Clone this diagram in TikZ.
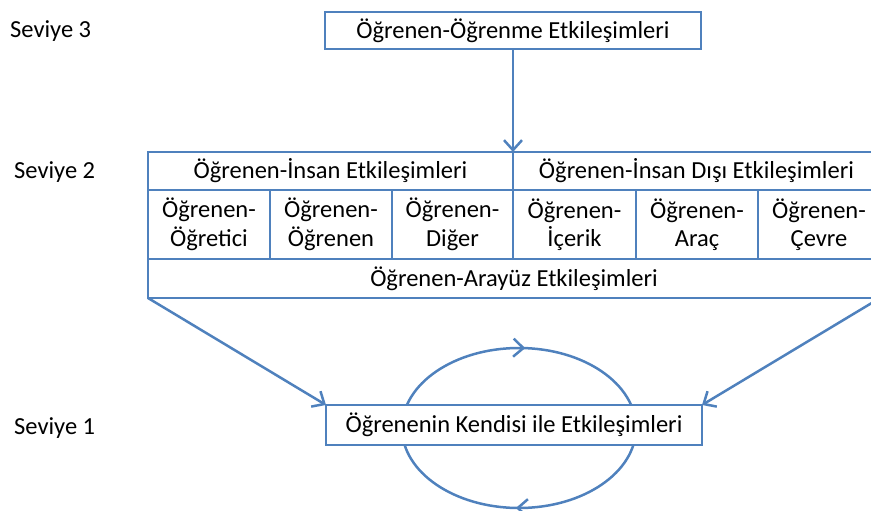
\documentclass[tikz,border=0pt]{standalone}
\usepackage{fontspec}
\setmainfont{Carlito}
\usetikzlibrary{arrows.meta,decorations.markings}
\definecolor{lineblue}{HTML}{4F81BD}
\tikzset{
  box/.style={draw=lineblue, line width=2.5pt, fill=white, rectangle, outer sep=0pt, inner sep=0pt, align=center, font=\fontsize{24.5}{28.5}\selectfont},
  lbl/.style={anchor=west, inner sep=0pt, font=\fontsize{24.5}{28.5}\selectfont},
  conn/.style={draw=lineblue, line width=2.5pt, -{Straight Barb[length=10pt,width=18pt,line width=2.5pt]}},
  loopmark/.style={draw=lineblue, line width=2.5pt, postaction={decorate}, decoration={markings, mark=at position #1 with {\arrow{Straight Barb[length=10pt,width=18pt,line width=2.5pt]}}}}
}
\begin{document}
\begin{tikzpicture}[x=1pt,y=-1pt]
\useasboundingbox (0,0) rectangle (871,511);
\clip (0,0) rectangle (871,511);
% loop around level 1
\path[loopmark=0.52] (402,428) arc[start angle=180, end angle=0, x radius=117pt, y radius=80pt];
\path[loopmark=0.51] (636,428) arc[start angle=0, end angle=-180, x radius=117pt, y radius=80pt];
% level 3
\node[box, minimum width=376pt, minimum height=37pt] (t) at (513,30.5) {Öğrenen-Öğrenme Etkileşimleri};
% level 2
\node[box, minimum width=365pt, minimum height=38pt] (h1) at (330.5,171) {Öğrenen-İnsan Etkileşimleri};
\node[box, minimum width=367pt, minimum height=38pt] (h2) at (696.5,171) {Öğrenen-İnsan Dışı Etkileşimleri};
\node[box, minimum width=122pt, minimum height=69pt] (c1) at (209,224.5) {Öğrenen-\\Öğretici};
\node[box, minimum width=122pt, minimum height=69pt] (c2) at (331,224.5) {Öğrenen-\\Öğrenen};
\node[box, minimum width=121pt, minimum height=69pt] (c3) at (452.5,224.5) {Öğrenen-\\Diğer};
\node[box, minimum width=123pt, minimum height=69pt] (c4) at (574.5,224.5) {Öğrenen-\\İçerik};
\node[box, minimum width=122pt, minimum height=69pt] (c5) at (697,224.5) {Öğrenen-\\Araç};
\node[box, minimum width=122pt, minimum height=69pt] (c6) at (819,224.5) {Öğrenen-\\Çevre};
\node[box, minimum width=732pt, minimum height=39pt] (r3) at (514,278.5) {Öğrenen-Arayüz Etkileşimleri};
% level 1
\node[box, minimum width=376pt, minimum height=40pt] (b) at (514,425) {Öğrenenin Kendisi ile Etkileşimleri};
% labels
\node[lbl] (s3) at (10,31) {Seviye 3};
\node[lbl] (s2) at (14,172) {Seviye 2};
\node[lbl] (s1) at (14,428) {Seviye 1};
% connectors
\draw[conn] (t.south) -- (h1.north east);
\draw[conn] (r3.south west) -- (b.north west);
\draw[conn] (r3.south east) -- (b.north east);
\end{tikzpicture}
\end{document}
